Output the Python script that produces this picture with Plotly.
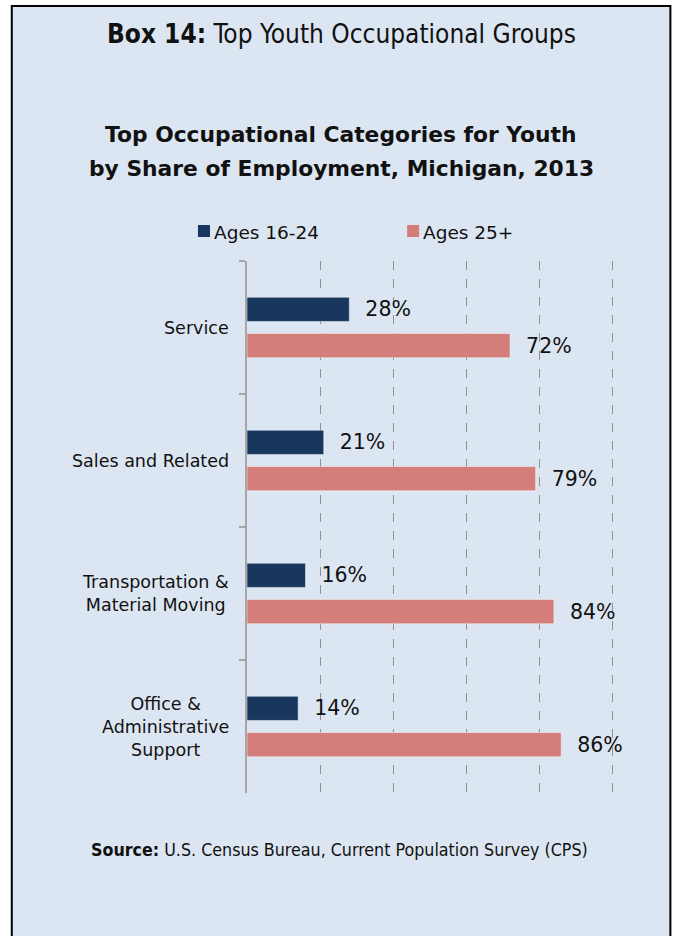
import plotly.graph_objects as go

# ---- data -------------------------------------------------------------
categories = ["Service", "Sales and Related", "Transportation &<br>Material Moving",
              "Office &<br>Administrative<br>Support"]
youth_share = [28, 21, 16, 14]       # Ages 16-24
adult_share = [72, 79, 84, 86]       # Ages 25+
series_names = ["Ages 16-24", "Ages 25+"]
grid_ticks = [0, 20, 40, 60, 80, 100]

# ---- geometry ---------------------------------------------------------
W, H = 673, 936
X_MAX = 101                      # a little headroom so the 100% gridline shows
UNIT = 3.65                      # pixels per percentage point
L, T, B = 247, 261, 143
R = W - L - UNIT * X_MAX
PW, PH = W - L - R, H - T - B

def px(x):
    return (x - L) / PW

def py(y):
    return (H - B - y) / PH

NAVY = "#17375E"
ROSE = "#D37E7A"
BG = "#DCE6F2"
FONT = "DejaVu Sans"
NARROW = "Liberation Sans Narrow, DejaVu Sans Condensed, sans-serif"

fig = go.Figure()
for name, vals, col in [(series_names[0], youth_share, NAVY),
                        (series_names[1], adult_share, ROSE)]:
    fig.add_trace(go.Bar(
        y=categories, x=vals, name=name, orientation="h",
        marker=dict(color=col, line=dict(color="rgba(255,255,255,0.45)", width=1)),
        text=[f"\u00a0\u00a0{v}%" for v in vals],
        textposition="outside", cliponaxis=False,
        textfont=dict(family=FONT, size=20.5, color="#111111"),
        showlegend=False,
    ))

shapes = [
    # framed box behind the chart
    dict(type="rect", xref="paper", yref="paper",
         x0=px(12), x1=px(670), y0=py(945), y1=py(6),
         fillcolor=BG, line=dict(color="black", width=2), layer="below"),
]
annotations = []

# custom legend: square swatch then label
for (sx, tx, name, col) in [(198, 212, series_names[0], NAVY),
                            (407, 421, series_names[1], ROSE)]:
    shapes.append(dict(type="rect", xref="paper", yref="paper",
                       x0=px(sx), x1=px(sx + 12), y0=py(237), y1=py(225),
                       fillcolor=col, line=dict(width=0)))
    annotations.append(dict(xref="paper", yref="paper", x=px(tx), y=py(232),
                            xanchor="left", yanchor="middle", showarrow=False,
                            text=name, font=dict(family=FONT, size=18.5, color="#111111")))

# category labels, lines centred, right edge against the axis
for c in categories:
    annotations.append(dict(xref="paper", yref="y", x=px(231), y=c,
                            xanchor="right", yanchor="middle", align="center",
                            showarrow=False, text=c,
                            font=dict(family=FONT, size=17.5, color="#111111")))

# headings
annotations += [
    dict(xref="paper", yref="paper", x=px(341), y=py(34), xanchor="center",
         yanchor="middle", showarrow=False,
         text="<b>Box 14:</b> Top Youth Occupational Groups",
         font=dict(family=NARROW, size=26, color="#111111")),
    dict(xref="paper", yref="paper", x=px(341), y=py(134), xanchor="center",
         yanchor="middle", showarrow=False,
         text="<b>Top Occupational Categories for Youth</b>",
         font=dict(family=FONT, size=21.8, color="#111111")),
    dict(xref="paper", yref="paper", x=px(341), y=py(168), xanchor="center",
         yanchor="middle", showarrow=False,
         text="<b>by Share of Employment, Michigan, 2013</b>",
         font=dict(family=FONT, size=21.8, color="#111111")),
    dict(xref="paper", yref="paper", x=px(339), y=py(850), xanchor="center",
         yanchor="middle", showarrow=False,
         text="<b>Source:</b> U.S. Census Bureau, Current Population Survey (CPS)",
         font=dict(family=NARROW, size=17.7, color="#111111")),
]

fig.update_layout(
    width=W, height=H,
    margin=dict(l=L, r=R, t=T, b=B, pad=0),
    paper_bgcolor="white", plot_bgcolor="rgba(0,0,0,0)",
    barmode="group", bargap=0.4545, bargroupgap=0.3333,
    shapes=shapes, annotations=annotations,
    showlegend=False,
    xaxis=dict(range=[0, X_MAX], tickvals=grid_ticks, showticklabels=False,
               showgrid=True, gridcolor="#909090", griddash="dash", gridwidth=1,
               zeroline=False, showline=False, fixedrange=True),
    yaxis=dict(autorange="reversed", showticklabels=False, showgrid=False,
               showline=True, linecolor="#A6A6A6", linewidth=1.5,
               ticks="outside", tickson="boundaries", ticklen=6,
               tickcolor="#A6A6A6", tickwidth=1.5, zeroline=False, fixedrange=True),
)

fig.write_html("out.html")
